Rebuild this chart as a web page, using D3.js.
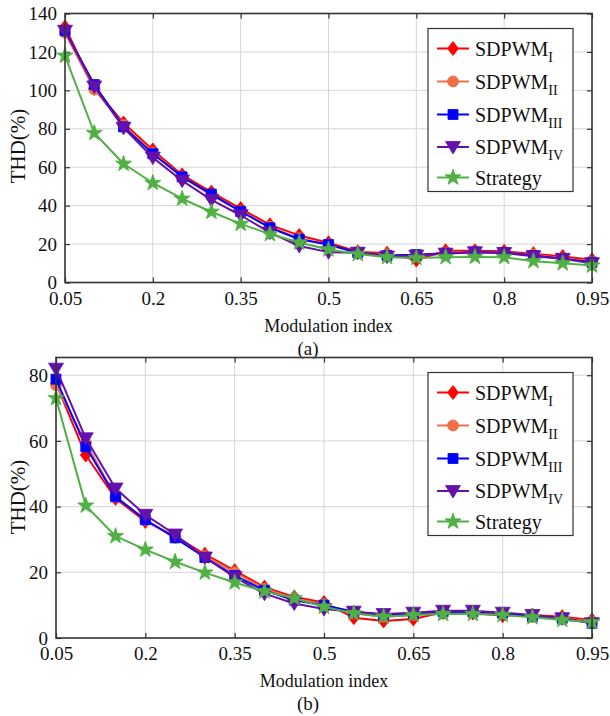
<!DOCTYPE html>
<html>
<head>
<meta charset="utf-8">
<script src="https://cdn.jsdelivr.net/npm/d3@7"></script>
<style>
  html, body { margin: 0; padding: 0; background: #fff; }
  svg { display: block; font-family: "Liberation Serif", "Times New Roman", serif; }
</style>
</head>
<body>
<svg id="chart" width="610" height="716"></svg>
<script>
// ---- data ----
const modIndex = [0.05, 0.10, 0.15, 0.20, 0.25, 0.30, 0.35, 0.40, 0.45, 0.50,
                  0.55, 0.60, 0.65, 0.70, 0.75, 0.80, 0.85, 0.90, 0.95];
const xTicks = [0.05, 0.2, 0.35, 0.5, 0.65, 0.8, 0.95];
const yTicksA = [0, 20, 40, 60, 80, 100, 120, 140];
const yTicksB = [0, 20, 40, 60, 80];
const seriesNames = ["SDPWM_I", "SDPWM_II", "SDPWM_III", "SDPWM_IV", "Strategy"];

// panel (a)
const a_I   = [133, 101, 83, 69, 56, 47, 38.5, 30, 24.5, 20.7, 16, 15.2, 11.7, 16.5, 16.5, 16.2, 15, 13.5, 11.8];
const a_II  = [130, 100.5, 82, 67.5, 55, 45.5, 37, 29, 23, 19.5, 15.5, 14.5, 14, 15.5, 16, 15.5, 14.5, 12.5, 11];
const a_III = [131, 103, 81, 67, 55, 46, 37, 28.5, 22.5, 19.8, 15.5, 14, 14.5, 15.2, 15.8, 15.5, 14, 12.3, 10.5];
const a_IV  = [131, 102, 80.5, 65, 53, 43, 35, 26, 19, 15.8, 15.5, 13.5, 14, 15, 15.7, 15.3, 13.7, 12.3, 10];
const a_S   = [118, 77.8, 61.8, 51.8, 43.6, 36.8, 30.5, 25.2, 20.8, 17.2, 14.8, 13.2, 12.8, 13.2, 13.3, 13.2, 11.1, 10, 8.8];

// panel (b)
const b_I   = [77.5, 55.7, 42.5, 35.5, 31, 25.5, 20.5, 15.5, 12.5, 10.8, 6.2, 5.2, 5.8, 7.8, 7.6, 6.8, 7, 6.5, 5.5];
const b_II  = [77, 59.5, 43, 36, 30.5, 25, 20, 15, 12, 10.3, 7.5, 6.5, 7, 8, 8, 7.5, 6.5, 6, 5];
const b_III = [78.8, 58.2, 43, 36, 30.5, 24.5, 19, 14.5, 11.5, 10, 8, 7, 7.5, 8, 8, 7.5, 6.5, 6, 4.5];
const b_IV  = [82, 60.8, 45.5, 37.5, 31.5, 24.5, 18.5, 13.5, 10.5, 8.8, 8, 7.3, 7.7, 8.3, 8.3, 7.7, 7, 6, 4.5];
const b_S   = [73, 40.3, 31, 26.9, 23.2, 19.9, 16.9, 14.2, 12.1, 9.5, 7.5, 6.5, 7, 7.3, 7.3, 7, 6.3, 5.5, 4.8];

// ---- styles ----
const colors = ["#ff0000", "#ef7048", "#0000ff", "#6410aa", "#50b044"];
const markers = ["diamond", "circle", "square", "triangleDown", "star"];

function markerPath(type) {
  switch (type) {
    case "diamond": return "M0,-7L5.5,0L0,7L-5.5,0Z";
    case "square": return "M-5,-5L5,-5L5,5L-5,5Z";
    case "triangleDown": return "M-7.5,-5.5L7.5,-5.5L0,7Z";
    case "circle": {
      const r = 5.5;
      return `M${r},0A${r},${r} 0 1,1 ${-r},0A${r},${r} 0 1,1 ${r},0Z`;
    }
    case "star": {
      const R = 8.5, r = 3.4; let p = "";
      for (let i = 0; i < 10; i++) {
        const rad = i % 2 === 0 ? R : r;
        const ang = -Math.PI / 2 + i * Math.PI / 5;
        p += (i === 0 ? "M" : "L") + (rad * Math.cos(ang)).toFixed(2) + "," + (rad * Math.sin(ang)).toFixed(2);
      }
      return p + "Z";
    }
  }
}

const svg = d3.select("#chart");
svg.append("rect").attr("width", 610).attr("height", 716).attr("fill", "#fff");

const subs = ["I", "II", "III", "IV"];

function drawPanel(cfg) {
  const x = d3.scaleLinear().domain([0.05, 0.95]).range([cfg.left, cfg.right]);
  const y = d3.scaleLinear().domain([0, cfg.ymax]).range([cfg.bottom, cfg.top]);
  const g = svg.append("g");

  // grid
  g.append("g").selectAll("line").data(xTicks.slice(1, -1)).join("line")
    .attr("x1", d => x(d)).attr("x2", d => x(d))
    .attr("y1", cfg.top).attr("y2", cfg.bottom)
    .attr("stroke", "#d6d6d6").attr("stroke-width", 1);
  g.append("g").selectAll("line").data(cfg.yTicks.filter(v => v > 0 && v < cfg.ymax)).join("line")
    .attr("x1", cfg.left).attr("x2", cfg.right)
    .attr("y1", d => y(d)).attr("y2", d => y(d))
    .attr("stroke", "#d6d6d6").attr("stroke-width", 1);

  // axes via d3 axis (inward ticks)
  const fmtX = d => String(d);
  const axB = d3.axisBottom(x).tickValues(xTicks).tickSize(-5).tickPadding(9).tickFormat(fmtX);
  const axT = d3.axisTop(x).tickValues(xTicks).tickSize(-5).tickFormat("");
  const axL = d3.axisLeft(y).tickValues(cfg.yTicks).tickSize(-5).tickPadding(8).tickFormat(d3.format("d"));
  const axR = d3.axisRight(y).tickValues(cfg.yTicks).tickSize(-5).tickFormat("");

  const styleAxis = sel => {
    sel.select(".domain").remove();
    sel.selectAll(".tick line").attr("stroke", "#333").attr("stroke-width", 1.2);
    sel.selectAll(".tick text").attr("fill", "#111").attr("font-size", 19)
      .attr("font-family", '"Liberation Serif", "Times New Roman", serif');
  };
  g.append("g").attr("transform", `translate(0,${cfg.bottom})`).call(axB).call(styleAxis);
  g.append("g").attr("transform", `translate(0,${cfg.top})`).call(axT).call(styleAxis);
  g.append("g").attr("transform", `translate(${cfg.left},0)`).call(axL).call(styleAxis);
  g.append("g").attr("transform", `translate(${cfg.right},0)`).call(axR).call(styleAxis);

  // series
  cfg.series.forEach((vals, i) => {
    const pts = modIndex.map((m, k) => [m, vals[k]]);
    const line = d3.line().x(d => x(d[0])).y(d => y(d[1]));
    g.append("path").datum(pts).attr("d", line)
      .attr("fill", "none").attr("stroke", colors[i]).attr("stroke-width", 2)
      .attr("stroke-linejoin", "round");
    g.append("g").selectAll("path").data(pts).join("path")
      .attr("d", markerPath(markers[i]))
      .attr("transform", d => `translate(${x(d[0])},${y(d[1])})`)
      .attr("fill", colors[i]).attr("stroke", colors[i]).attr("stroke-width", 0.8);
  });

  // box
  g.append("rect").attr("x", cfg.left).attr("y", cfg.top)
    .attr("width", cfg.right - cfg.left).attr("height", cfg.bottom - cfg.top)
    .attr("fill", "none").attr("stroke", "#333").attr("stroke-width", 1.6);

  // labels
  g.append("text").attr("x", (cfg.left + cfg.right) / 2).attr("y", cfg.bottom + 49)
    .attr("text-anchor", "middle").attr("font-size", 18).attr("fill", "#111").text("Modulation index");
  g.append("text").attr("x", 308).attr("y", cfg.bottom + 72)
    .attr("text-anchor", "middle").attr("font-size", 19).attr("fill", "#111").text(cfg.caption);
  g.append("text")
    .attr("transform", `translate(25,${cfg.ylabelY}) rotate(-90)`)
    .attr("text-anchor", "middle").attr("font-size", 21).attr("fill", "#111").text("THD(%)");

  // legend
  const lx = 428, ly = cfg.legendTop, lw = 145, lh = 163;
  const leg = g.append("g");
  leg.append("rect").attr("x", lx).attr("y", ly).attr("width", lw).attr("height", lh)
    .attr("fill", "#fff").attr("stroke", "#333").attr("stroke-width", 1.2);
  const offs = [20, 53, 86, 118.5, 149];
  seriesNames.forEach((name, i) => {
    const cy = ly + offs[i];
    leg.append("line").attr("x1", 437).attr("x2", 469).attr("y1", cy).attr("y2", cy)
      .attr("stroke", colors[i]).attr("stroke-width", 2);
    leg.append("path").attr("d", markerPath(markers[i]))
      .attr("transform", `translate(453,${cy})`)
      .attr("fill", colors[i]).attr("stroke", colors[i]).attr("stroke-width", 0.8);
    const t = leg.append("text").attr("x", 475).attr("y", cy + 7).attr("font-size", 20).attr("fill", "#111");
    if (i < 4) {
      t.append("tspan").text("SDPWM");
      t.append("tspan").attr("font-size", 14).attr("dy", 6).text(subs[i]);
    } else {
      t.text(name);
    }
  });
}

drawPanel({
  left: 65, right: 592, top: 13.5, bottom: 282.5, ymax: 140, yTicks: yTicksA,
  series: [a_I, a_II, a_III, a_IV, a_S], caption: "(a)", ylabelY: 146, legendTop: 28.5
});
drawPanel({
  left: 56, right: 592, top: 357.5, bottom: 638, ymax: 85.4, yTicks: yTicksB,
  series: [b_I, b_II, b_III, b_IV, b_S], caption: "(b)", ylabelY: 497, legendTop: 372.5
});
</script>
</body>
</html>
